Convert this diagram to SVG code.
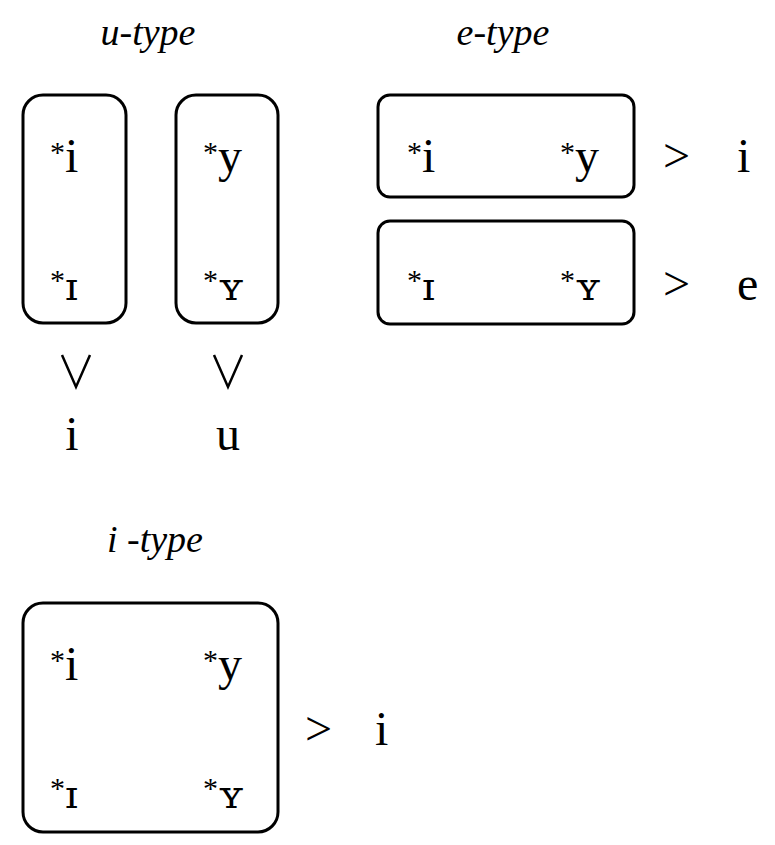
<svg xmlns="http://www.w3.org/2000/svg" width="775" height="845" viewBox="0 0 775 845">
<style>
.b{fill:none;stroke:#000;stroke-width:3}
.t{font-family:"Liberation Serif","DejaVu Serif",serif;font-size:48px;fill:#000}
.s{font-size:30px}
.l{font-family:"Liberation Serif","DejaVu Serif",serif;font-size:38px;font-style:italic;fill:#000;text-anchor:middle}
.v{fill:none;stroke:#000;stroke-width:2.5}
</style>
<rect width="775" height="845" fill="#fff"/>
<text class="l" x="148" y="45">u-type</text>
<text class="l" x="503" y="45">e-type</text>
<text class="l" x="155" y="552">i -type</text>
<g id="u1"><rect class="b" x="23" y="95" width="103" height="228" rx="20"/>
<text class="t" x="50" y="172"><tspan class="s" dy="-10">*</tspan><tspan dy="10">i</tspan></text>
<text class="t" x="50" y="300"><tspan class="s" dy="-10">*</tspan><tspan dy="10" font-family="DejaVu Serif" font-size="40">ɪ</tspan></text></g>
<g id="u2"><rect class="b" x="176" y="95" width="102" height="228" rx="20"/>
<text class="t" x="203" y="172"><tspan class="s" dy="-10">*</tspan><tspan dy="10">y</tspan></text>
<text class="t" x="203" y="300"><tspan class="s" dy="-10">*</tspan><tspan dy="10" font-family="DejaVu Serif" font-size="40">ʏ</tspan></text></g>
<g id="e1"><rect class="b" x="378" y="95" width="256" height="102" rx="12"/>
<text class="t" x="407" y="172"><tspan class="s" dy="-10">*</tspan><tspan dy="10">i</tspan></text>
<text class="t" x="560" y="172"><tspan class="s" dy="-10">*</tspan><tspan dy="10">y</tspan></text></g>
<g id="e2"><rect class="b" x="378" y="221" width="256" height="103" rx="12"/>
<text class="t" x="407" y="300"><tspan class="s" dy="-10">*</tspan><tspan dy="10" font-family="DejaVu Serif" font-size="40">ɪ</tspan></text>
<text class="t" x="560" y="300"><tspan class="s" dy="-10">*</tspan><tspan dy="10" font-family="DejaVu Serif" font-size="40">ʏ</tspan></text></g>
<g id="i1"><rect class="b" x="23" y="603" width="255" height="229" rx="20"/>
<text class="t" x="50" y="680"><tspan class="s" dy="-10">*</tspan><tspan dy="10">i</tspan></text>
<text class="t" x="203" y="680"><tspan class="s" dy="-10">*</tspan><tspan dy="10">y</tspan></text>
<text class="t" x="50" y="808"><tspan class="s" dy="-10">*</tspan><tspan dy="10" font-family="DejaVu Serif" font-size="40">ɪ</tspan></text>
<text class="t" x="203" y="808"><tspan class="s" dy="-10">*</tspan><tspan dy="10" font-family="DejaVu Serif" font-size="40">ʏ</tspan></text></g>
<g id="out">
<text class="t" x="663" y="172">&gt;</text><text class="t" x="737" y="172">i</text>
<text class="t" x="663" y="300">&gt;</text><text class="t" x="737" y="300">e</text>
<text class="t" x="305" y="745">&gt;</text><text class="t" x="375" y="745">i</text>
<path class="v" d="M62 355 L76 387 L90 355 M214 355 L228 387 L242 355"/>
<text class="t" x="72" y="450" text-anchor="middle">i</text>
<text class="t" x="228" y="450" text-anchor="middle">u</text>
</g>
</svg>
